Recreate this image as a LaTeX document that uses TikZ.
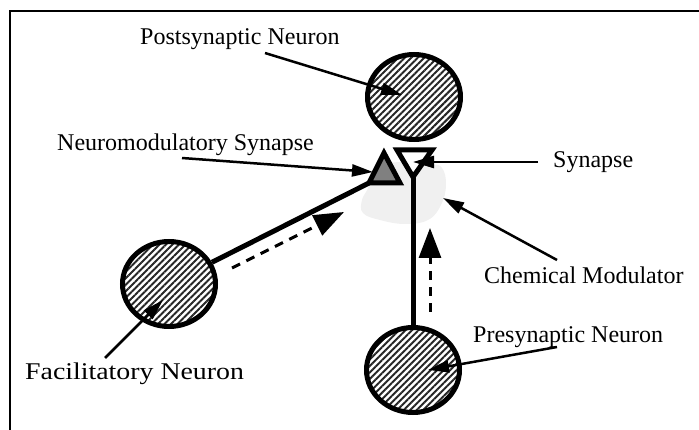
\documentclass[tikz,border=0pt]{standalone}
\usepackage{fontspec}
\setmainfont{Liberation Serif}
\usetikzlibrary{arrows.meta,shapes.geometric,patterns.meta}

\begin{document}
\begin{tikzpicture}[x=1pt,y=-1pt,
          neuron/.style={ellipse,draw,line width=5pt,minimum width=93pt,minimum height=85pt,
            inner sep=0pt,pattern={Lines[angle=45,distance=4.6pt,line width=2pt]},pattern color=black!85},
          lbl/.style={anchor=base west,inner sep=0pt,font=\fontsize{24}{28}\selectfont},
          axon/.style={line width=5pt},
          signal/.style={line width=3pt,dash pattern=on 9pt off 7pt,-{Triangle[length=30pt,width=22pt]}},
          ptr/.style={line width=2.5pt,-{Triangle[length=21pt,width=12pt]}}]
        \useasboundingbox (0,0) rectangle (699,430);
        \draw[line width=2.5pt] (10,11) rectangle (720,450);
        % chemical modulator cloud
        \fill[black!6] plot[smooth cycle,tension=0.7] coordinates {(375,168) (400,162) (430,164) (442,168)
          (446,185) (441,205) (428,220) (405,224) (380,220) (363,213) (362,200) (368,188)};
        % neurons
        \node[neuron] (post) at (414,97) {};
        \node[neuron] (fac) at (169,284) {};
        \node[neuron] (pre) at (413,370) {};
        % synapses
        \coordinate (nmT) at (384,153);
        \coordinate (nmL) at (369,183);
        \coordinate (nmR) at (400,183);
        \coordinate (synL) at (397,150);
        \coordinate (synR) at (432,150);
        \coordinate (synB) at (413,177);
        \draw[axon] (fac) -- (nmL);
        \draw[axon] (pre) -- (synB);
        \draw[axon,fill=black!50,line join=miter] (nmT) -- (nmL) -- (nmR) -- cycle;
        \draw[axon,fill=white,line join=miter] (synL) -- (synR) -- (synB) -- cycle;
        % signal flow
        \coordinate (facs) at (232,268);
        \coordinate (face) at (344,212);
        \coordinate (pres) at (430,312);
        \coordinate (pree) at (430,228);
        \draw[signal] (facs) -- (face);
        \draw[signal] (pres) -- (pree);
        % labels
        \node[lbl] (postlbl) at (140,45) {Postsynaptic Neuron};
        \node[lbl] (nmlbl) at (57,151) {Neuromodulatory Synapse};
        \node[lbl] (synlbl) at (553,168) {Synapse};
        \node[lbl] (chemlbl) at (484,284) {Chemical Modulator};
        \node[lbl] (prelbl) at (473,343) {Presynaptic Neuron};
        \node[lbl] (faclbl) at (25,379) {\scalebox{1.16}[1]{Facilitatory Neuron}};
        % pointers
        \coordinate (postp) at (265,53);
        \coordinate (postt) at (402,95);
        \coordinate (nmp) at (182,158);
        \coordinate (nmt) at (373,172);
        \coordinate (synp) at (538,162);
        \coordinate (synt) at (413,162);
        \coordinate (chemp) at (557,260);
        \coordinate (chemt) at (443,198);
        \coordinate (prep) at (557,347);
        \coordinate (pret) at (428,370);
        \coordinate (facp) at (105,358);
        \coordinate (fact) at (163,300);
        \draw[ptr] (postp) -- (postt);
        \draw[ptr] (nmp) -- (nmt);
        \draw[ptr] (synp) -- (synt);
        \draw[ptr] (chemp) -- (chemt);
        \draw[ptr] (prep) -- (pret);
        \draw[ptr] (facp) -- (fact);
      \end{tikzpicture}
\end{document}
